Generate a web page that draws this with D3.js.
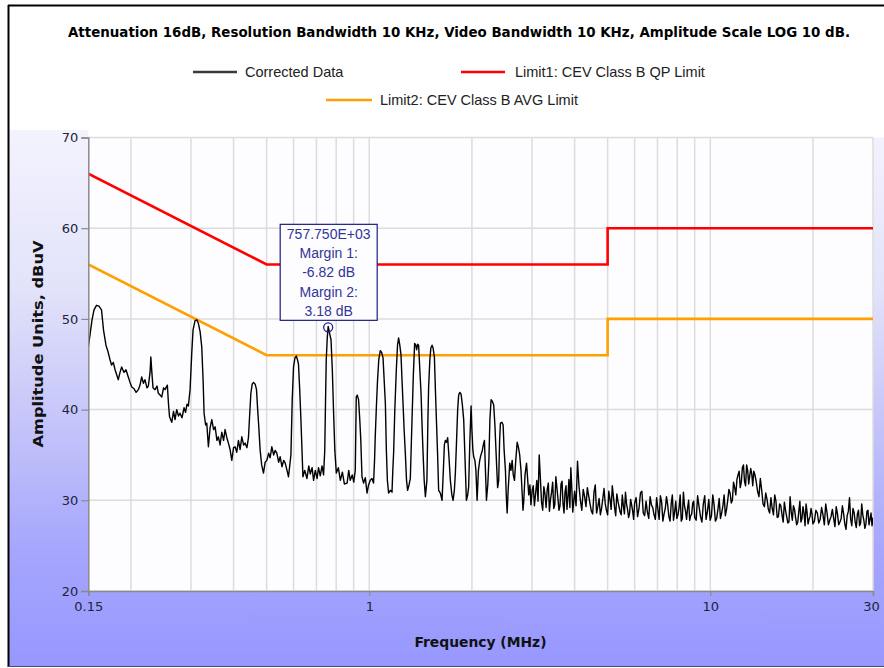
<!DOCTYPE html>
<html><head><meta charset="utf-8">
<script src="https://cdn.jsdelivr.net/npm/d3@7"></script>
<style>
html,body{margin:0;padding:0;background:#fff;}
svg{display:block;}
</style>
</head><body>
<svg id="chart" width="884" height="668"></svg>
<script>
// ---------- DATA ----------
const chartTitle = "Attenuation 16dB, Resolution Bandwidth 10 KHz, Video Bandwidth 10 KHz, Amplitude Scale LOG 10 dB.";
const xTickValues = [0.15, 1, 10, 30];
const xTickLabels = ["0.15", "1", "10", "30"];
const xGridValues = [0.2,0.3,0.4,0.5,0.6,0.7,0.8,0.9,1,2,3,4,5,6,7,8,9,10,20];
const yTickValues = [20, 30, 40, 50, 60, 70];
const seriesNames = ["Corrected Data", "Limit1: CEV Class B QP Limit", "Limit2: CEV Class B AVG Limit"];
const limitFreq = [0.15, 0.5, 5, 5, 30];
const limitQP   = [66, 56, 56, 60, 60];
const limitAVG  = [56, 46, 46, 50, 50];
const markerFreq = 0.75775;
const markerAmp = 49.18;
const markerLines = ["757.750E+03", "Margin 1:", "-6.82 dB", "Margin 2:", "3.18 dB"];

// Corrected data: [frequency MHz, amplitude dBuV]
const correctedData = [
[0.150,46.9],[0.1517,48.2],[0.1538,49.9],[0.1559,51.0],[0.1585,51.5],[0.1612,51.4],[0.1640,51.0],[0.1662,48.8],
[0.1690,47.1],[0.1713,46.4],[0.1737,45.5],[0.1755,44.9],[0.1776,45.2],[0.1797,44.4],[0.1837,43.3],[0.1858,44.1],
[0.1879,44.7],[0.1909,44.1],[0.1935,44.4],[0.1965,43.6],[0.1988,43.0],[0.2012,42.5],[0.2043,42.3],[0.2071,41.9],
[0.2103,42.2],[0.2127,42.7],[0.2151,43.6],[0.2177,42.9],[0.2199,43.3],[0.2229,42.4],[0.2250,42.6],[0.2276,44.1],
[0.2288,45.8],[0.2304,44.1],[0.2322,42.4],[0.2354,42.2],[0.2386,42.6],[0.2407,41.8],[0.2435,41.6],[0.2463,41.4],
[0.2493,42.4],[0.2518,42.2],[0.2558,42.7],[0.2579,40.5],[0.2596,39.2],[0.2635,38.6],[0.2667,39.8],[0.2694,38.9],
[0.2725,40.0],[0.2758,39.3],[0.2786,39.6],[0.2824,39.1],[0.2863,40.2],[0.2892,39.7],[0.2921,40.6],[0.2948,40.4],
[0.2982,42.2],[0.3016,46.2],[0.3043,48.8],[0.3084,49.8],[0.3122,49.9],[0.3154,49.5],[0.3191,48.6],[0.3227,46.9],
[0.3256,43.3],[0.3278,39.6],[0.3312,38.3],[0.3338,38.5],[0.3375,35.9],[0.3414,38.0],[0.3453,38.9],[0.3496,37.8],
[0.3532,38.1],[0.3575,36.6],[0.3611,37.0],[0.3652,36.1],[0.3694,37.5],[0.3739,36.6],[0.3777,37.8],[0.3823,36.9],
[0.3863,36.3],[0.3907,35.6],[0.3952,34.4],[0.4000,35.8],[0.4041,35.9],[0.4088,35.3],[0.4134,36.6],[0.4181,35.6],
[0.4229,37.0],[0.4281,36.1],[0.4325,36.3],[0.4378,35.8],[0.4423,36.9],[0.4459,39.4],[0.4496,41.8],[0.4536,42.8],
[0.4576,43.0],[0.4629,42.8],[0.4670,42.2],[0.4707,40.0],[0.4739,38.3],[0.4787,35.5],[0.4836,33.9],[0.4895,33.0],
[0.4951,34.2],[0.5008,34.4],[0.5069,35.2],[0.5120,34.7],[0.5179,35.9],[0.5243,35.0],[0.5296,35.5],[0.5357,35.2],
[0.5423,34.2],[0.5479,34.8],[0.5546,33.7],[0.5611,34.4],[0.5669,34.1],[0.5739,33.3],[0.5796,32.6],[0.5844,33.8],
[0.5892,35.0],[0.5944,41.1],[0.5997,44.7],[0.6054,45.7],[0.6109,45.9],[0.6159,45.5],[0.6201,45.0],[0.6252,42.2],
[0.6303,38.9],[0.6350,35.5],[0.6389,32.6],[0.6468,33.3],[0.6565,32.4],[0.6646,33.8],[0.6714,32.9],[0.6797,33.6],
[0.6866,32.2],[0.6946,33.3],[0.7031,32.4],[0.7099,33.6],[0.7182,32.7],[0.7270,33.8],[0.7344,32.8],[0.7404,35.5],
[0.7444,41.1],[0.7479,45.5],[0.7530,47.9],[0.75775,49.18],[0.7661,48.3],[0.7724,47.7],[0.7792,44.4],[0.7860,39.6],
[0.7925,35.5],[0.8006,33.0],[0.8116,33.6],[0.8227,32.2],[0.8339,33.1],[0.8453,31.8],[0.8610,31.9],[0.8706,33.3],
[0.8794,32.2],[0.8914,32.8],[0.9005,32.0],[0.9098,33.3],[0.9160,41.4],[0.9222,41.6],[0.9302,41.1],[0.9378,38.9],
[0.9442,36.7],[0.9519,32.6],[0.9624,31.9],[0.9736,32.5],[0.9849,30.8],[0.9953,31.7],[1.0068,32.2],[1.0183,32.4],
[1.0293,31.9],[1.0363,34.4],[1.0412,37.0],[1.0497,40.5],[1.0576,43.3],[1.0663,45.5],[1.0773,46.5],[1.0870,46.3],
[1.0974,45.7],[1.1057,43.3],[1.1148,40.7],[1.1224,35.5],[1.1301,32.2],[1.1393,30.8],[1.1525,31.1],[1.1659,30.9],
[1.1722,33.3],[1.1786,35.2],[1.1883,40.0],[1.2004,44.4],[1.2102,47.1],[1.2190,47.9],[1.2290,47.1],[1.2390,46.0],
[1.2474,43.3],[1.2559,40.7],[1.2653,37.8],[1.2756,35.2],[1.2861,32.2],[1.2957,31.1],[1.3078,31.7],[1.3194,32.4],
[1.3266,35.5],[1.3347,38.9],[1.3465,43.8],[1.3585,47.3],[1.3696,47.1],[1.3770,46.6],[1.3864,47.2],[1.3954,47.1],
[1.4069,44.4],[1.4185,41.8],[1.4282,38.3],[1.4380,35.2],[1.4489,32.2],[1.4608,30.4],[1.4758,32.2],[1.4858,38.9],
[1.4930,42.5],[1.5053,45.5],[1.5156,46.8],[1.5280,47.1],[1.5385,46.8],[1.5522,45.8],[1.5628,42.2],[1.5735,38.9],
[1.5864,35.0],[1.5974,31.1],[1.6160,30.8],[1.6347,30.0],[1.6491,33.3],[1.6603,36.1],[1.6716,36.6],[1.6852,36.4],
[1.6978,36.9],[1.7114,35.0],[1.7289,32.2],[1.7466,30.6],[1.7608,30.0],[1.7763,31.1],[1.7884,33.0],[1.8030,36.6],
[1.8164,40.0],[1.8286,41.6],[1.8437,41.9],[1.8588,41.7],[1.8752,40.5],[1.8918,38.9],[1.9072,35.0],[1.9268,30.0],
[1.9438,30.6],[1.9565,31.5],[1.9725,36.6],[1.9886,40.4],[1.9995,37.8],[2.0131,35.5],[2.0241,34.8],[2.0406,34.4],
[2.0545,33.3],[2.0711,30.0],[2.0896,33.3],[2.1081,34.4],[2.1253,35.0],[2.1428,35.4],[2.1617,36.2],[2.1764,36.6],
[2.1912,33.3],[2.2061,30.0],[2.2258,31.7],[2.2428,34.4],[2.2581,38.9],[2.2764,41.1],[2.2965,40.9],[2.3168,40.5],
[2.3356,38.3],[2.3595,34.4],[2.3789,31.4],[2.3963,32.2],[2.4110,36.6],[2.4241,38.5],[2.4490,38.6],[2.4690,38.3],
[2.4858,35.5],[2.5078,33.3],[2.5215,30.6],[2.5369,28.6],[2.5541,31.1],[2.5820,34.1],[2.6031,33.3],[2.6243,34.4],
[2.6440,32.8],[2.6656,32.2],[2.6892,34.4],[2.7148,36.4],[2.7388,35.8],[2.7612,35.0],[2.7856,33.3],[2.8046,31.1],
[2.8237,28.9],[2.8391,30.0],[2.8623,32.8],[2.8916,34.1],[2.9152,32.2],[2.9350,30.6],[2.9590,31.7],[2.9791,29.5],
[3.0034,31.1],
[3.05,29.4],[3.10,32.2],[3.15,35.0],[3.20,29.8],[3.25,31.5],[3.30,29.2],[3.35,31.9],[3.40,30.1],[3.45,32.0],
[3.50,29.5],[3.55,31.4],[3.60,28.9],[3.65,31.8],[3.70,29.6],[3.75,30.9],[3.80,29.0],[3.85,32.3],[3.90,33.6],
[3.95,28.7],[4.00,31.0],
[4.08,34.3],[4.16,30.0],[4.24,31.2],[4.32,29.3],[4.40,30.5],[4.48,28.8],[4.56,30.9],[4.64,28.6],[4.72,30.2],
[4.80,29.1],[4.88,31.3],[4.96,28.9],[5.04,31.0],[5.12,29.0],[5.20,30.4],[5.28,28.3],[5.36,29.9],[5.44,28.7],
[5.52,30.6],[5.60,28.5],[5.68,29.6],[5.76,28.1],[5.84,30.1],[5.92,28.8],[6.00,29.7],
[6.12,28.2],[6.24,30.8],[6.36,28.6],[6.48,29.9],[6.60,28.0],[6.72,29.5],[6.84,28.4],[6.96,30.3],[7.08,27.9],
[7.20,29.8],[7.32,28.5],[7.44,30.4],[7.56,28.2],[7.68,29.6],[7.80,27.8],[7.92,29.9],[8.04,28.4],[8.16,30.6],
[8.28,28.0],[8.40,29.4],[8.52,27.9],[8.64,30.0],[8.76,28.3],[8.88,29.7],[9.00,28.1],
[9.18,30.5],[9.36,28.2],[9.54,29.6],[9.72,27.9],[9.90,30.1],[10.08,28.3],[10.26,29.5],[10.44,28.0],[10.62,30.2],
[10.80,28.6],[10.98,30.6],[11.16,29.0],[11.34,31.2],[11.52,29.7],[11.70,32.0],[11.88,30.6],[12.06,32.8],[12.24,31.4],
[12.42,33.6],[12.60,32.1],[12.78,33.9],[12.96,31.8],[13.14,33.5],[13.32,31.6],[13.50,32.9],
[13.76,31.0],[14.02,32.4],[14.28,29.6],[14.54,30.8],[14.80,29.0],[15.06,30.3],[15.32,28.4],[15.58,29.9],[15.84,28.2],
[16.10,29.4],[16.36,27.6],[16.62,28.9],[16.88,27.5],[17.14,30.4],[17.40,27.8],[17.66,29.0],[17.92,27.3],[18.18,28.8],
[18.44,27.6],[18.70,29.3],[18.96,27.2],[19.22,28.7],[19.48,27.9],[19.74,29.1],[20.00,27.4],
[20.4,28.9],[20.8,27.5],[21.2,29.2],[21.6,27.3],[22.0,28.6],[22.4,27.8],[22.8,29.0],[23.2,27.1],[23.6,28.5],
[24.0,27.6],[24.4,29.4],[24.8,27.4],[25.2,28.3],[25.6,30.3],[26.0,27.2],[26.4,28.7],[26.8,27.0],[27.2,28.9],
[27.6,27.5],[28.0,28.4],[28.4,26.9],[28.8,28.8],[29.2,27.3],[29.6,28.6],[30.0,28.1]
];
// Additional sweep points in the 3-30 MHz noise floor: [frequency MHz, amplitude dBuV]
const correctedNoiseExtra = [
[3.025,31.6],[3.075,30.8],[3.125,29.9],[3.175,32.4],[3.225,28.9],[3.275,30.7],[3.325,31.2],[3.375,28.8],[3.425,30.9],
[3.475,29.1],[3.525,32.6],[3.575,30.2],[3.625,29.4],[3.675,32.1],[3.725,28.6],[3.775,31.6],[3.825,30.4],[3.875,29.2],
[3.925,31.4],[3.975,29.8],
[4.04,29.4],[4.12,31.6],[4.20,28.9],[4.28,30.4],[4.36,31.4],[4.44,29.6],[4.52,28.5],[4.60,31.7],[4.68,29.3],
[4.76,28.4],[4.84,30.2],[4.92,29.6],[5.00,28.4],[5.08,30.1],[5.16,31.6],[5.24,29.2],[5.32,30.7],[5.40,29.3],
[5.48,28.4],[5.56,29.4],[5.64,30.9],[5.72,29.0],[5.80,28.6],[5.88,29.5],[5.96,27.9],
[6.06,30.3],[6.18,29.1],[6.30,31.0],[6.42,28.3],[6.54,28.7],[6.66,30.4],[6.78,29.2],[6.90,27.9],[7.02,29.0],
[7.14,30.5],[7.26,27.7],[7.38,29.1],[7.50,29.5],[7.62,27.7],[7.74,30.6],[7.86,28.7],[7.98,28.0],[8.10,29.2],
[8.22,27.7],[8.34,30.9],[8.46,28.8],[8.58,29.2],[8.70,27.8],[8.82,28.5],[8.94,29.9],
[9.09,27.8],[9.27,29.3],[9.45,27.6],[9.63,30.5],[9.81,28.8],[9.99,27.8],[10.17,30.6],[10.35,27.7],[10.53,29.0],
[10.71,28.0],[10.89,29.4],[11.07,28.3],[11.25,30.0],[11.43,30.8],[11.61,30.0],[11.79,31.4],[11.97,32.3],[12.15,33.2],
[12.33,32.0],[12.51,33.9],[12.69,31.6],[12.87,33.3],[13.05,32.7],[13.23,32.9],[13.41,33.2],
[13.63,32.1],[13.89,30.4],[14.15,31.1],[14.41,29.3],[14.67,30.1],[14.93,28.6],[15.19,29.1],[15.45,30.6],[15.71,28.1],
[15.97,29.6],[16.23,28.4],[16.49,29.8],[16.75,28.2],[17.01,27.6],[17.27,28.7],[17.53,29.4],[17.79,28.1],[18.05,27.6],
[18.31,29.9],[18.57,28.0],[18.83,28.6],[19.09,29.6],[19.35,27.4],[19.61,28.2],[19.87,28.5],
[20.2,27.7],[20.6,28.6],[21.0,27.9],[21.4,28.4],[21.8,29.6],[22.2,27.3],[22.6,28.2],[23.0,28.0],[23.4,29.3],
[23.8,27.3],[24.2,28.0],[24.6,28.5],[25.0,26.8],[25.4,28.8],[25.8,27.9],[26.2,29.1],[26.6,27.6],[27.0,28.5],
[27.4,27.2],[27.8,29.6],[28.2,27.8],[28.6,27.4],[29.0,28.9],[29.4,27.9],[29.8,27.2]
];

// ---------- DRAWING ----------
const svg = d3.select("#chart");
const W = 884, H = 668;
const plot = {left: 88.3, right: 873, top: 137.5, bottom: 591};

const x = d3.scaleLog().domain([0.15, 30]).range([plot.left, plot.right]);
const y = d3.scaleLinear().domain([20, 70]).range([plot.bottom, plot.top]);

const tracePoints = correctedData.concat(correctedNoiseExtra).sort((a, b) => a[0] - b[0]);

const defs = svg.append("defs");
const grad = defs.append("linearGradient").attr("id", "bg").attr("x1", 0).attr("y1", 0).attr("x2", 0).attr("y2", 1);
[[0, "#f3f3fe"], [0.3, "#e2e2fa"], [0.55, "#c4c4fa"], [0.78, "#a6a6fd"], [1, "#9797ff"]]
  .forEach(([o, c]) => grad.append("stop").attr("offset", o).attr("stop-color", c));
defs.append("clipPath").attr("id", "clip").append("rect")
  .attr("x", plot.left).attr("y", plot.top).attr("width", plot.right - plot.left).attr("height", plot.bottom - plot.top);

svg.append("rect").attr("width", W).attr("height", H).attr("fill", "#fff");
svg.append("rect").attr("x", 9).attr("y", 130).attr("width", W - 9).attr("height", 536).attr("fill", "url(#bg)");
svg.append("rect").attr("x", plot.left).attr("y", 128).attr("width", W - plot.left).attr("height", plot.top - 128).attr("fill", "#fff");
svg.append("rect").attr("x", plot.left).attr("y", plot.top).attr("width", plot.right - plot.left)
  .attr("height", plot.bottom - plot.top).attr("fill", "#fdfdff");

// frame
svg.append("line").attr("x1", 8.5).attr("x2", 8.5).attr("y1", 5).attr("y2", 667).attr("stroke", "#000").attr("stroke-width", 2);
svg.append("line").attr("x1", 8).attr("x2", W).attr("y1", 5.5).attr("y2", 5.5).attr("stroke", "#000").attr("stroke-width", 2);
svg.append("line").attr("x1", 8).attr("x2", W).attr("y1", 666.5).attr("y2", 666.5).attr("stroke", "#4a4a70").attr("stroke-width", 1);

// grid
const grid = svg.append("g");
grid.selectAll("line.v").data(xGridValues).join("line")
  .attr("x1", d => x(d)).attr("x2", d => x(d)).attr("y1", plot.top).attr("y2", plot.bottom)
  .attr("stroke", "#dcdcdc").attr("stroke-width", 1.5);
grid.selectAll("line.h").data(yTickValues).join("line")
  .attr("x1", plot.left).attr("x2", plot.right).attr("y1", d => y(d)).attr("y2", d => y(d))
  .attr("stroke", "#dcdcdc").attr("stroke-width", 1.5);
grid.append("line").attr("x1", plot.right).attr("x2", plot.right).attr("y1", plot.top).attr("y2", plot.bottom)
  .attr("stroke", "#dcdcdc").attr("stroke-width", 1.5);

// series
const lineGen = d3.line().x(d => x(d[0])).y(d => y(d[1]));
const gSeries = svg.append("g").attr("clip-path", "url(#clip)");
const qpData = limitFreq.map((f, i) => [f, limitQP[i]]);
const avgData = limitFreq.map((f, i) => [f, limitAVG[i]]);
gSeries.append("path").datum(avgData).attr("d", lineGen).attr("fill", "none").attr("stroke", "#ffa000").attr("stroke-width", 2.6);
gSeries.append("path").datum(qpData).attr("d", lineGen).attr("fill", "none").attr("stroke", "#ff0000").attr("stroke-width", 2.6);
gSeries.append("path").datum(tracePoints).attr("d", lineGen).attr("fill", "none")
  .attr("stroke", "#000").attr("stroke-width", 1.4).attr("stroke-linejoin", "round");

// axes
const tickFont = "'DejaVu Sans', Verdana, sans-serif";
const boldFont = "'DejaVu Sans Condensed', 'DejaVu Sans', Verdana, sans-serif";
const yAxis = svg.append("g").attr("transform", `translate(${plot.left},0)`)
  .call(d3.axisLeft(y).tickValues(yTickValues).tickSize(7).tickPadding(3).tickFormat(d3.format("d")));
const xAxis = svg.append("g").attr("transform", `translate(0,${plot.bottom})`)
  .call(d3.axisBottom(x).tickValues(xTickValues).tickSize(5).tickPadding(6)
    .tickFormat((d, i) => xTickLabels[i]));
[yAxis, xAxis].forEach(a => {
  a.select(".domain").attr("stroke", "#8a8a8a").attr("stroke-width", 1.5);
  a.selectAll(".tick line").attr("stroke", "#8a8a8a").attr("stroke-width", 1.2);
  a.selectAll(".tick text").attr("fill", "#23233a").style("font-family", tickFont).style("font-size", "13px");
});
xAxis.selectAll(".tick text").filter((d) => d === 30).attr("dx", "-2");

// axis titles
svg.append("text").attr("x", 480.5).attr("y", 647).attr("text-anchor", "middle")
  .attr("textLength", 132).attr("lengthAdjust", "spacingAndGlyphs")
  .style("font-family", boldFont).style("font-weight", "bold").style("font-size", "14px").attr("fill", "#111")
  .text("Frequency (MHz)");
svg.append("text").attr("transform", "translate(43,344) rotate(-90)").attr("text-anchor", "middle")
  .attr("textLength", 207).attr("lengthAdjust", "spacingAndGlyphs")
  .style("font-family", boldFont).style("font-weight", "bold").style("font-size", "14px").attr("fill", "#111")
  .text("Amplitude Units, dBuV");

// title
svg.append("text").attr("x", 459).attr("y", 37).attr("text-anchor", "middle")
  .attr("textLength", 782).attr("lengthAdjust", "spacingAndGlyphs")
  .style("font-family", boldFont).style("font-weight", "bold").style("font-size", "14px").attr("fill", "#000")
  .text(chartTitle);

// legend
const legendFont = "'Liberation Sans', Arial, sans-serif";
const legendItems = [
  {name: seriesNames[0], color: "#3a3a3a", x1: 193, x2: 237, tx: 245, y: 72},
  {name: seriesNames[1], color: "#ff0000", x1: 461, x2: 505, tx: 515, y: 72},
  {name: seriesNames[2], color: "#ffa000", x1: 326, x2: 372, tx: 380, y: 100}
];
const lg = svg.append("g");
legendItems.forEach(it => {
  lg.append("line").attr("x1", it.x1).attr("x2", it.x2).attr("y1", it.y).attr("y2", it.y)
    .attr("stroke", it.color).attr("stroke-width", 2.4);
  lg.append("text").attr("x", it.tx).attr("y", it.y + 5).style("font-family", legendFont)
    .style("font-size", "14.5px").attr("fill", "#222").text(it.name);
});

// marker + annotation
const mx = x(markerFreq), my = y(markerAmp);
svg.append("circle").attr("cx", mx).attr("cy", my + 1).attr("r", 4.5).attr("fill", "none")
  .attr("stroke", "#1f1f8a").attr("stroke-width", 1.3);
const boxW = 97, boxH = 96;
const bx = mx - 48, by = my - 102;
svg.append("rect").attr("x", bx).attr("y", by).attr("width", boxW).attr("height", boxH)
  .attr("fill", "#fdfdff").attr("stroke", "#1c1c80").attr("stroke-width", 1.2);
markerLines.forEach((t, i) => {
  svg.append("text").attr("x", bx + boxW / 2).attr("y", by + 14.5 + i * 19.25).attr("text-anchor", "middle")
    .style("font-family", legendFont).style("font-size", "14px").attr("fill", "#34349a").text(t);
});
</script>
</body></html>
